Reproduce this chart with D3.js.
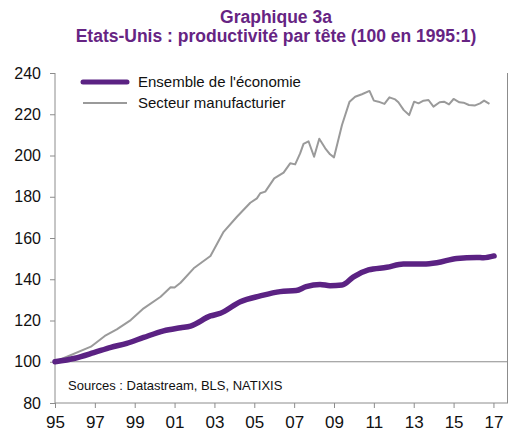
<!DOCTYPE html>
<html>
<head>
<meta charset="utf-8">
<script src="https://cdn.jsdelivr.net/npm/d3@7"></script>
<style>
body { margin: 0; background: #fff; }
text { font-family: 'Liberation Sans', Arial, sans-serif; }
</style>
</head>
<body>
<svg width="509" height="432"></svg>
<script>
// data (decimal years)
var manufYears = [1995.0, 1996.8, 1997.5, 1998.1, 1998.8, 1999.45, 2000.3, 2000.8, 2001.0, 2001.3,
    2001.96, 2002.8, 2003.46, 2004.13, 2004.8, 2005.13, 2005.3, 2005.55, 2006.0, 2006.47,
    2006.8, 2007.05, 2007.3, 2007.47, 2007.72, 2008.0, 2008.26, 2008.56, 2008.8, 2009.0,
    2009.4, 2009.78, 2010.06, 2010.4, 2010.78, 2011.0, 2011.23, 2011.53, 2011.78, 2012.07,
    2012.23, 2012.5, 2012.77, 2013.02, 2013.24, 2013.49, 2013.74, 2013.99, 2014.3, 2014.52,
    2014.77, 2015.0, 2015.29, 2015.5, 2015.77, 2016.08, 2016.33, 2016.53, 2016.8];
var manufValues = [100, 107.3, 112.5, 115.7, 120.2, 125.9, 131.5, 136.1, 136, 138.3,
    145.3, 151.3, 163, 170.3, 177.1, 179.2, 181.7, 182.5, 188.9, 191.7,
    196.2, 195.7, 201, 205.6, 206.9, 199.4, 208.1, 203.5, 200.6, 199.1,
    214.8, 226.1, 228.5, 229.7, 231.3, 226.6, 226.1, 225, 228.2, 227.2,
    225.8, 222, 219.6, 226.1, 225.3, 226.6, 226.9, 223.7, 225.8, 226.1,
    224.8, 227.4, 225.8, 225.6, 224.5, 224.3, 225.3, 226.6, 225];

var totalYears = [1995, 1996, 1996.95, 1997.8, 1998.6, 1999.45, 2000.45, 2001.3, 2001.8, 2002.8,
    2003.3, 2004.3, 2005.3, 2006.3, 2007.1, 2007.6, 2008.3, 2008.8, 2009.4, 2009.98,
    2010.73, 2011.65, 2012.48, 2013.49, 2014.16, 2015.16, 2016.16, 2016.5, 2017.03];
var totalValues = [100, 101.7, 104.4, 107, 108.9, 111.8, 115, 116.5, 117.3, 122.2,
    123.5, 129.1, 131.9, 134, 134.5, 136.4, 137.5, 136.9, 137.2, 141.2,
    144.5, 145.8, 147.4, 147.4, 148, 150.1, 150.6, 150.4, 151.3];

var xTicks = [1995, 1997, 1999, 2001, 2003, 2005, 2007, 2009, 2011, 2013, 2015, 2017];
var yTicks = [80, 100, 120, 140, 160, 180, 200, 220, 240];
var seriesNames = ["Ensemble de l'économie", 'Secteur manufacturier'];
var titleLines = ['Graphique 3a', 'Etats-Unis : productivité par tête (100 en 1995:1)'];
var sourceText = 'Sources : Datastream, BLS, NATIXIS';

var svg = d3.select('svg');
var purple = '#5b2283';
var grey = '#9a9a9a';
var axisCol = '#8c8c8c';

var plot = {l: 55, r: 508, t: 73, b: 403};

var xScale = d3.scaleLinear().domain([1995, 2017.73]).range([plot.l, plot.r]);
var yScale = d3.scaleLinear().domain([80, 240]).range([plot.b, plot.t]);

// titles
svg.selectAll('.title')
    .data(titleLines)
    .enter()
    .append('text')
    .attr('class', 'title')
    .attr('x', 276)
    .attr('y', function(d, i) { return 23 + i * 19; })
    .attr('text-anchor', 'middle')
    .style('font-size', '17.5px')
    .style('font-weight', 'bold')
    .style('fill', '#662483')
    .text(function(d) { return d; });

// reference line at 100 and right frame
svg.append('line')
    .attr('x1', plot.l).attr('x2', plot.r)
    .attr('y1', yScale(100)).attr('y2', yScale(100))
    .style('stroke', axisCol).style('stroke-width', 1);
svg.append('line')
    .attr('x1', plot.r - 0.5).attr('x2', plot.r - 0.5)
    .attr('y1', plot.t).attr('y2', plot.b)
    .style('stroke', axisCol).style('stroke-width', 1);

// axes
var yAxis = d3.axisLeft(yScale).tickValues(yTicks).tickSize(5).tickPadding(9);
var gy = svg.append('g').attr('class', 'y axis')
    .attr('transform', 'translate(' + plot.l + ',0)')
    .call(yAxis);

var xAxis = d3.axisBottom(xScale).tickValues(xTicks).tickSize(5).tickPadding(8)
    .tickFormat(function(d) { return d3.format('02d')(d % 100); });
var gx = svg.append('g').attr('class', 'x axis')
    .attr('transform', 'translate(0,' + plot.b + ')')
    .call(xAxis);

svg.selectAll('.axis path').style('stroke', axisCol).attr('d', function() {
    return d3.select(this.parentNode).classed('y') ?
        'M0,' + plot.t + 'V' + plot.b : 'M' + plot.l + ',0H' + plot.r;
});
svg.selectAll('.axis line').style('stroke', axisCol);
svg.selectAll('.axis text')
    .style('font-family', "'Liberation Sans', Arial, sans-serif")
    .style('fill', '#111');
gy.selectAll('text').style('font-size', '16px');
gx.selectAll('text').style('font-size', '17px');

// lines
var manufData = manufYears.map(function(y, i) { return {t: y, v: manufValues[i]}; });
var totalData = totalYears.map(function(y, i) { return {t: y, v: totalValues[i]}; });

var lineLinear = d3.line().x(d => xScale(d.t)).y(d => yScale(d.v));
var lineSmooth = d3.line().x(d => xScale(d.t)).y(d => yScale(d.v)).curve(d3.curveMonotoneX);

svg.append('path')
    .attr('d', lineLinear(manufData))
    .style('fill', 'none').style('stroke', grey).style('stroke-width', 2)
    .style('stroke-linejoin', 'round');

svg.append('path')
    .attr('d', lineSmooth(totalData))
    .style('fill', 'none').style('stroke', purple).style('stroke-width', 5.5)
    .style('stroke-linecap', 'round').style('stroke-linejoin', 'round');

// legend
var legend = svg.selectAll('.legend')
    .data(seriesNames)
    .enter()
    .append('g')
    .attr('class', 'legend')
    .attr('transform', function(d, i) { return 'translate(83,' + (82 + i * 21) + ')'; });

legend.append('line')
    .attr('x1', 0).attr('x2', 44)
    .style('stroke', function(d, i) { return i == 0 ? purple : grey; })
    .style('stroke-width', function(d, i) { return i == 0 ? 5 : 2; })
    .style('stroke-linecap', function(d, i) { return i == 0 ? 'round' : 'butt'; });

legend.append('text')
    .attr('x', 55).attr('dy', '0.35em')
    .style('font-size', '15px')
    .style('fill', '#111')
    .text(function(d) { return d; });

// source
svg.append('text')
    .attr('x', 68).attr('y', 390)
    .style('font-size', '13px')
    .style('fill', '#111')
    .text(sourceText);
</script>
</body>
</html>
